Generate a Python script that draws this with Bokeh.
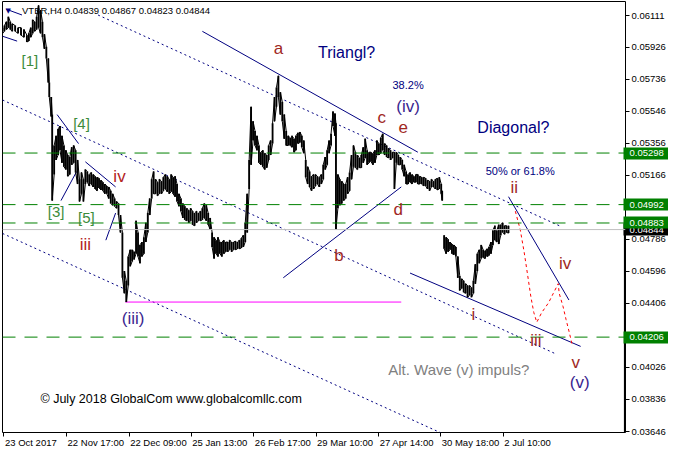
import numpy as np
from bokeh.plotting import figure
from bokeh.models import Range1d, LinearAxis, FixedTicker, Label, Span, PrintfTickFormatter
from bokeh.embed import file_html
from bokeh.resources import INLINE

# ---------------- data (H4 bars, sampled; x = bar index) ----------------
bar_x = [2, 4, 6, 8, 10, 12, 15, 18, 21, 24, 27, 29, 31, 33, 35, 37, 39, 41, 43, 45,
         47, 49, 50, 52, 53, 55, 57, 59, 61, 63, 65, 67, 69, 71, 73, 75, 77, 79, 81, 83,
         85, 87, 89, 91, 93, 95, 97, 99, 101, 103, 105, 107, 109, 111, 113, 115, 117, 119, 121, 123,
         125, 127, 129, 131, 133, 135, 137, 139, 141, 143, 145, 147, 149, 151, 153, 155, 157, 159, 161, 163,
         165, 167, 169, 171, 173, 175, 177, 179, 181, 183, 185, 187, 189, 191, 193, 195, 197, 199, 201, 203,
         205, 207, 209, 211, 213, 215, 217, 219, 221, 223, 225, 227, 229, 231, 233, 235, 237, 239, 241, 243,
         245, 247, 249, 251, 253, 255, 257, 259, 261, 263, 265, 267, 269, 271, 273, 275, 277, 279, 281, 283,
         285, 287, 289, 291, 293, 295, 297, 299, 301, 303, 305, 307, 309, 311, 313, 315, 317, 319, 321, 323,
         325, 327, 329, 331, 333, 335, 337, 339, 341, 343, 344, 346, 348, 350, 352, 354, 356, 358, 360, 362,
         364, 366, 368, 370, 372, 374, 376, 378, 380, 382, 384, 386, 388, 390, 392, 394, 396, 398, 400, 402,
         404, 406, 408, 410, 412, 414, 416, 418, 420, 422, 424, 426, 428, 430, 432, 434, 436, 438, 440, 442,
         444, 446, 448, 450, 452, 453, 455, 457, 459, 461, 463, 465, 467, 469, 471, 473, 475, 477, 479, 481,
         483, 485, 487, 489, 491, 493, 495, 497, 499, 501, 503, 505, 507, 509, 511, 513, 515, 517, 519, 521]
bar_high = [0.06042, 0.06054, 0.06077, 0.06106, 0.06077, 0.06065, 0.06054, 0.06042, 0.06042, 0.06031,
            0.05997, 0.06008, 0.06042, 0.06088, 0.06077, 0.06106, 0.06174, 0.06146, 0.06077, 0.06002,
            0.05928, 0.05859, 0.05716, 0.05630, 0.05526, 0.05343, 0.05400, 0.05441, 0.05458, 0.05400,
            0.05343, 0.05314, 0.05286, 0.05274, 0.05332, 0.05343, 0.05314, 0.05257, 0.05142, 0.05183,
            0.05142, 0.05200, 0.05188, 0.05171, 0.05183, 0.05171, 0.05160, 0.05154, 0.05148, 0.05137,
            0.05125, 0.05114, 0.05102, 0.05097, 0.05074, 0.05056, 0.05028, 0.05011, 0.04999, 0.04930,
            0.04827, 0.04598, 0.04540, 0.04684, 0.04724, 0.04724, 0.04712, 0.04896, 0.04827, 0.04753,
            0.04770, 0.04798, 0.04884, 0.04942, 0.05028, 0.05142, 0.05188, 0.05142, 0.05125, 0.05142,
            0.05131, 0.05154, 0.05171, 0.05160, 0.05142, 0.05171, 0.05154, 0.05160, 0.05114, 0.05056,
            0.05028, 0.04999, 0.04982, 0.04970, 0.04959, 0.04970, 0.04953, 0.04942, 0.04953, 0.04942,
            0.04953, 0.04970, 0.04999, 0.04988, 0.04942, 0.04913, 0.04827, 0.04798, 0.04781, 0.04798,
            0.04770, 0.04770, 0.04781, 0.04770, 0.04770, 0.04781, 0.04770, 0.04770, 0.04775, 0.04770,
            0.04781, 0.04793, 0.04810, 0.04884, 0.05056, 0.05257, 0.05572, 0.05486, 0.05429, 0.05400,
            0.05343, 0.05303, 0.05314, 0.05297, 0.05286, 0.05343, 0.05372, 0.05475, 0.05630, 0.05687,
            0.05756, 0.05658, 0.05601, 0.05526, 0.05429, 0.05400, 0.05389, 0.05400, 0.05383, 0.05400,
            0.05418, 0.05423, 0.05400, 0.05372, 0.05257, 0.05217, 0.05188, 0.05160, 0.05171, 0.05171,
            0.05160, 0.05154, 0.05171, 0.05228, 0.05274, 0.05314, 0.05372, 0.05412, 0.05544, 0.05532,
            0.05475, 0.05171, 0.05142, 0.05131, 0.05114, 0.05114, 0.05154, 0.05183, 0.05286, 0.05343,
            0.05303, 0.05286, 0.05269, 0.05286, 0.05332, 0.05383, 0.05314, 0.05303, 0.05303, 0.05297,
            0.05314, 0.05372, 0.05354, 0.05389, 0.05412, 0.05354, 0.05343, 0.05326, 0.05314, 0.05303,
            0.05303, 0.05303, 0.05286, 0.05274, 0.05257, 0.05228, 0.05188, 0.05171, 0.05183, 0.05171,
            0.05160, 0.05171, 0.05171, 0.05160, 0.05154, 0.05154, 0.05148, 0.05137, 0.05131, 0.05142,
            0.05131, 0.05142, 0.05148, 0.05154, 0.05114, 0.05074, 0.04810, 0.04798, 0.04787, 0.04770,
            0.04758, 0.04753, 0.04741, 0.04684, 0.04569, 0.04552, 0.04540, 0.04523, 0.04512, 0.04512,
            0.04500, 0.04540, 0.04638, 0.04701, 0.04724, 0.04753, 0.04724, 0.04718, 0.04730, 0.04741,
            0.04770, 0.04839, 0.04867, 0.04839, 0.04873, 0.04873, 0.04884, 0.04867, 0.04867, 0.04867]
bar_low = [0.06008, 0.06020, 0.06031, 0.06042, 0.06031, 0.06020, 0.06020, 0.06008, 0.05997, 0.05985,
           0.05957, 0.05962, 0.05985, 0.06008, 0.06020, 0.06031, 0.06042, 0.06008, 0.05985, 0.05916,
           0.05859, 0.05716, 0.05630, 0.05515, 0.05016, 0.05171, 0.05257, 0.05286, 0.05314, 0.05240,
           0.05217, 0.05200, 0.05160, 0.05171, 0.05228, 0.05240, 0.05183, 0.05114, 0.05011, 0.05056,
           0.05011, 0.05114, 0.05125, 0.05102, 0.05114, 0.05097, 0.05085, 0.05074, 0.05091, 0.05079,
           0.05074, 0.05056, 0.05056, 0.05028, 0.04999, 0.04988, 0.04982, 0.04970, 0.04930, 0.04827,
           0.04558, 0.04466, 0.04414, 0.04512, 0.04626, 0.04655, 0.04667, 0.04701, 0.04684, 0.04644,
           0.04684, 0.04701, 0.04770, 0.04827, 0.04930, 0.05028, 0.05056, 0.05056, 0.05045, 0.05056,
           0.05056, 0.05074, 0.05085, 0.05068, 0.05056, 0.05068, 0.05056, 0.05039, 0.05011, 0.04982,
           0.04953, 0.04913, 0.04902, 0.04896, 0.04884, 0.04896, 0.04873, 0.04867, 0.04884, 0.04896,
           0.04896, 0.04902, 0.04913, 0.04896, 0.04873, 0.04844, 0.04741, 0.04672, 0.04701, 0.04684,
           0.04701, 0.04684, 0.04701, 0.04712, 0.04712, 0.04724, 0.04712, 0.04724, 0.04724, 0.04730,
           0.04730, 0.04735, 0.04741, 0.04770, 0.04827, 0.05085, 0.05228, 0.05372, 0.05343, 0.05314,
           0.05240, 0.05228, 0.05217, 0.05200, 0.05211, 0.05257, 0.05286, 0.05354, 0.05486, 0.05572,
           0.05630, 0.05526, 0.05486, 0.05383, 0.05343, 0.05343, 0.05343, 0.05332, 0.05303, 0.05314,
           0.05354, 0.05360, 0.05332, 0.05297, 0.05154, 0.05114, 0.05097, 0.05074, 0.05085, 0.05102,
           0.05114, 0.05097, 0.05114, 0.05142, 0.05200, 0.05228, 0.05297, 0.05343, 0.05458, 0.05400,
           0.04844, 0.04970, 0.04988, 0.04999, 0.05016, 0.05028, 0.05056, 0.05074, 0.05142, 0.05217,
           0.05211, 0.05200, 0.05211, 0.05211, 0.05240, 0.05269, 0.05228, 0.05240, 0.05246, 0.05228,
           0.05240, 0.05286, 0.05286, 0.05297, 0.05314, 0.05286, 0.05274, 0.05269, 0.05257, 0.05269,
           0.05085, 0.05240, 0.05228, 0.05228, 0.05200, 0.05160, 0.05114, 0.05114, 0.05125, 0.05114,
           0.05125, 0.05125, 0.05114, 0.05114, 0.05114, 0.05102, 0.05102, 0.05085, 0.05074, 0.05097,
           0.05097, 0.05085, 0.05079, 0.05085, 0.05056, 0.05016, 0.04730, 0.04701, 0.04712, 0.04724,
           0.04701, 0.04695, 0.04684, 0.04558, 0.04483, 0.04495, 0.04472, 0.04466, 0.04443, 0.04454,
           0.04443, 0.04466, 0.04523, 0.04598, 0.04644, 0.04672, 0.04678, 0.04672, 0.04684, 0.04690,
           0.04701, 0.04753, 0.04781, 0.04770, 0.04758, 0.04810, 0.04827, 0.04816, 0.04827, 0.04823]
session_gap = 454  # no trading between these bars (data gap)

last_ohlc = [0.04839, 0.04867, 0.04823, 0.04844]
symbol = "VTBR,H4"
price_ticks = [0.06111, 0.05926, 0.05736, 0.05546, 0.05356, 0.05166, 0.04976, 0.04786,
               0.04596, 0.04406, 0.04216, 0.04026, 0.03836, 0.03646]
date_ticks = [3.5, 67.7, 131.9, 195.6, 259.8, 323.6, 387.8, 451.5, 515.7]
date_labels = ["23 Oct 2017", "22 Nov 17:00", "22 Dec 09:00", "25 Jan 13:00", "26 Feb 17:00",
               "29 Mar 10:00", "27 Apr 14:00", "30 May 18:00", "2 Jul 10:00"]
levels = [0.05298, 0.04992, 0.04883, 0.04206]
wave_iii_low = 0.04414

FONT = "Liberation Sans"
AX_FS = 9.5
Y0, Y1 = 0.036401, 0.061970
FRAME_W = 622

p = figure(width=668, height=453, x_range=Range1d(2, 641), y_range=Range1d(Y0, Y1),
           output_backend="svg", toolbar_location=None,
           x_axis_location=None, y_axis_location=None,
           min_border_left=2, min_border_top=1, min_border_right=42, min_border_bottom=21)
p.grid.visible = False
p.outline_line_color = "black"
p.outline_line_alpha = 1.0
p.outline_line_width = 1
p.background_fill_color = "white"
p.border_fill_color = "white"

PRICE_FMT = PrintfTickFormatter(format="%.5f")
yaxis = LinearAxis(ticker=FixedTicker(ticks=price_ticks), formatter=PRICE_FMT,
                   major_tick_out=4, major_tick_in=0, minor_tick_out=0, minor_tick_in=0,
                   axis_line_color=None, major_tick_line_color="black",
                   major_label_text_font=FONT, major_label_text_font_size=f"{AX_FS}px",
                   major_label_text_color="black", major_label_standoff=2)
p.add_layout(yaxis, "right")

# price tags on the right scale: a wide tick as the box, white label on top
TAG_LEN = 45
TAG_STANDOFF = -39
def tag_axes(vals, color):
    box = LinearAxis(ticker=FixedTicker(ticks=vals),
                     major_label_overrides={v: "" for v in vals},
                     major_tick_in=TAG_LEN, major_tick_out=0, minor_tick_in=0, minor_tick_out=0,
                     major_tick_line_color=color, major_tick_line_width=12, major_tick_line_cap="butt",
                     axis_line_color=None, major_label_standoff=0, major_label_text_font_size="1px")
    p.add_layout(box, "right")
    txt = LinearAxis(ticker=FixedTicker(ticks=vals), formatter=PRICE_FMT,
                     major_tick_in=0, major_tick_out=0, minor_tick_in=0, minor_tick_out=0,
                     major_tick_line_color=None, axis_line_color=None,
                     major_label_standoff=TAG_STANDOFF, major_label_text_color="white",
                     major_label_text_font=FONT, major_label_text_font_size=f"{AX_FS}px")
    p.add_layout(txt, "right")

tag_axes([last_ohlc[3]], "black")
tag_axes(levels, "#008000")

# bottom axis: tick marks at the bar positions, labels left-aligned to them
xticks_axis = LinearAxis(ticker=FixedTicker(ticks=date_ticks),
                         major_label_overrides={t: "" for t in date_ticks},
                         major_tick_out=4, major_tick_in=0, minor_tick_out=0, minor_tick_in=0,
                         axis_line_color=None, major_tick_line_color="black",
                         major_label_text_font_size="1px", major_label_standoff=0)
p.add_layout(xticks_axis, "below")

_w = {"0": .556, "1": .556, "2": .556, "3": .556, "4": .556, "5": .556, "6": .556, "7": .556,
      "8": .556, "9": .556, " ": .278, ":": .278, "O": .778, "c": .5, "t": .278, "N": .722,
      "o": .556, "v": .5, "D": .722, "e": .556, "J": .5, "a": .556, "n": .556, "F": .611,
      "b": .556, "M": .833, "r": .333, "A": .667, "p": .556, "y": .5, "u": .556, "l": .222}
units_per_px = (641 - 2) / float(FRAME_W)
label_centers = [t + 1.0 + 0.5 * units_per_px * AX_FS * sum(_w.get(ch, .556) for ch in s)
                 for t, s in zip(date_ticks, date_labels)]
xlabels_axis = LinearAxis(ticker=FixedTicker(ticks=label_centers),
                          major_label_overrides={c: s for c, s in zip(label_centers, date_labels)},
                          major_tick_out=0, major_tick_in=0, minor_tick_out=0, minor_tick_in=0,
                          axis_line_color=None, major_tick_line_color=None,
                          major_label_text_font=FONT, major_label_text_font_size=f"{AX_FS}px",
                          major_label_text_color="black", major_label_standoff=0)
p.add_layout(xlabels_axis, "below")

# horizontal levels
p.add_layout(Span(location=last_ohlc[3], dimension="width", line_color="#c0c0c0", line_width=1))
for lv in levels:
    p.add_layout(Span(location=lv, dimension="width", line_color="#008000", line_width=1, line_dash="13 9"))

NAVY = "#000080"
# channel lines (dotted)
p.line([100, 573], [0.06117, 0.04867], color=NAVY, line_dash="2 3", line_width=1)
p.line([2, 570], [0.05613, 0.04105], color=NAVY, line_dash="2 3", line_width=1)
p.line([2, 455], [0.04821, 0.03629], color=NAVY, line_dash="2 3", line_width=1)
# triangle and diagonal lines
p.line([207, 428], [0.06020, 0.05303], color=NAVY, line_width=1)
p.line([290, 411], [0.04558, 0.05097], color=NAVY, line_width=1)
p.line([420, 595], [0.04586, 0.04151], color=NAVY, line_width=1)
p.line([521, 583], [0.05039, 0.04426], color=NAVY, line_width=1)
# small wedge lines
p.line([58, 80], [0.05526, 0.05354], color=NAVY, line_width=1)
p.line([62, 78], [0.05016, 0.05188], color=NAVY, line_width=1)
p.line([87, 118], [0.05246, 0.05097], color=NAVY, line_width=1)
p.line([108, 118], [0.04781, 0.04942], color=NAVY, line_width=1)
p.line([2, 17], [0.05991, 0.05962], color=NAVY, line_width=1)
p.line([6, 22], [0.06151, 0.06117], color=NAVY, line_width=1)
# magenta (iii) low
p.line([128, 411], [wave_iii_low, wave_iii_low], color="#ff00ff", line_width=1)
# projected path (red dotted)
p.line([528, 533, 537, 540, 544, 547, 550, 555, 562, 567, 572, 573, 577, 580, 583, 586],
       [0.04953, 0.04844, 0.04712, 0.04598, 0.04443, 0.04351, 0.04294, 0.04351, 0.04409, 0.04466,
        0.04523, 0.04466, 0.04386, 0.04311, 0.04242, 0.04168],
       color="#ff0000", line_dash="3 3", line_width=1)

# price bars: solid high-low strokes joined by a thin zigzag
xs, ys = [], []
for i, (x, h, l) in enumerate(zip(bar_x, bar_high, bar_low)):
    if i > 0 and bar_x[i - 1] < session_gap < x:
        xs.append(np.nan); ys.append(np.nan)
    if i % 2 == 0:
        xs += [x, x]; ys += [h, l]
    else:
        xs += [x, x]; ys += [l, h]
p.line(xs, ys, color="black", line_width=1)
p.segment(x0=bar_x, y0=bar_low, x1=bar_x, y1=bar_high, color="black", line_width=1.8, line_cap="butt")

# thick marker on right edge below current price
p.segment(x0=[640.4], y0=[Y0], x1=[640.4], y1=[last_ohlc[3]], color="black", line_width=2)

# title
p.add_layout(Label(x=5, y=0.06143, text="\u25bc", text_color=NAVY, text_font="DejaVu Sans",
                   text_font_size="7px", text_baseline="middle"))
p.add_layout(Label(x=22, y=0.06146, text=symbol + "  " + " ".join(f"{v:.5f}" for v in last_ohlc),
                   text_color="black", text_font=FONT, text_font_size=f"{AX_FS}px", text_baseline="middle"))

GREEN_T = "#3c8c3c"
RED_T = "#b22222"
BROWN_T = "#a0281e"
PURP = "#3a1f8f"
annots = [
    ("[1]", 30, 0.05848, GREEN_T, "15px"),
    ("[3]", 57, 0.04953, GREEN_T, "15px"),
    ("[4]", 83, 0.05475, GREEN_T, "15px"),
    ("[5]", 88, 0.04913, GREEN_T, "15px"),
    ("iii", 87, 0.04758, RED_T, "17px"),
    ("iv", 122, 0.05160, RED_T, "17px"),
    ("(iii)", 136, 0.04317, PURP, "17px"),
    ("a", 285, 0.05916, BROWN_T, "17px"),
    ("Triangl?", 355, 0.05893, NAVY, "16px"),
    ("38.2%", 418, 0.05699, NAVY, "11px"),
    ("(iv)", 418, 0.05572, PURP, "17px"),
    ("c", 391, 0.05509, BROWN_T, "17px"),
    ("e", 413, 0.05452, BROWN_T, "17px"),
    ("d", 408, 0.04965, BROWN_T, "17px"),
    ("b", 347, 0.04690, BROWN_T, "17px"),
    ("Diagonal?", 526, 0.05452, NAVY, "16px"),
    ("50% or 61.8%", 533, 0.05194, NAVY, "11px"),
    ("ii", 527, 0.05091, BROWN_T, "17px"),
    ("i", 485, 0.04340, BROWN_T, "17px"),
    ("iii", 549, 0.04185, BROWN_T, "17px"),
    ("iv", 579, 0.04644, BROWN_T, "17px"),
    ("v", 590, 0.04053, BROWN_T, "17px"),
    ("(v)", 594, 0.03939, PURP, "17px"),
    ("Alt. Wave (v) impuls?", 470, 0.04013, "#808080", "15px"),
    ("\u00a9 July 2018 GlobalCom www.globalcomllc.com", 175, 0.03841, "black", "12.5px"),
]
for t, x, y, c, fs in annots:
    p.add_layout(Label(x=x, y=y, text=t, text_color=c, text_font=FONT, text_font_size=fs,
                       text_align="center", text_baseline="middle"))

open("out.html", "w").write(file_html(p, INLINE))
